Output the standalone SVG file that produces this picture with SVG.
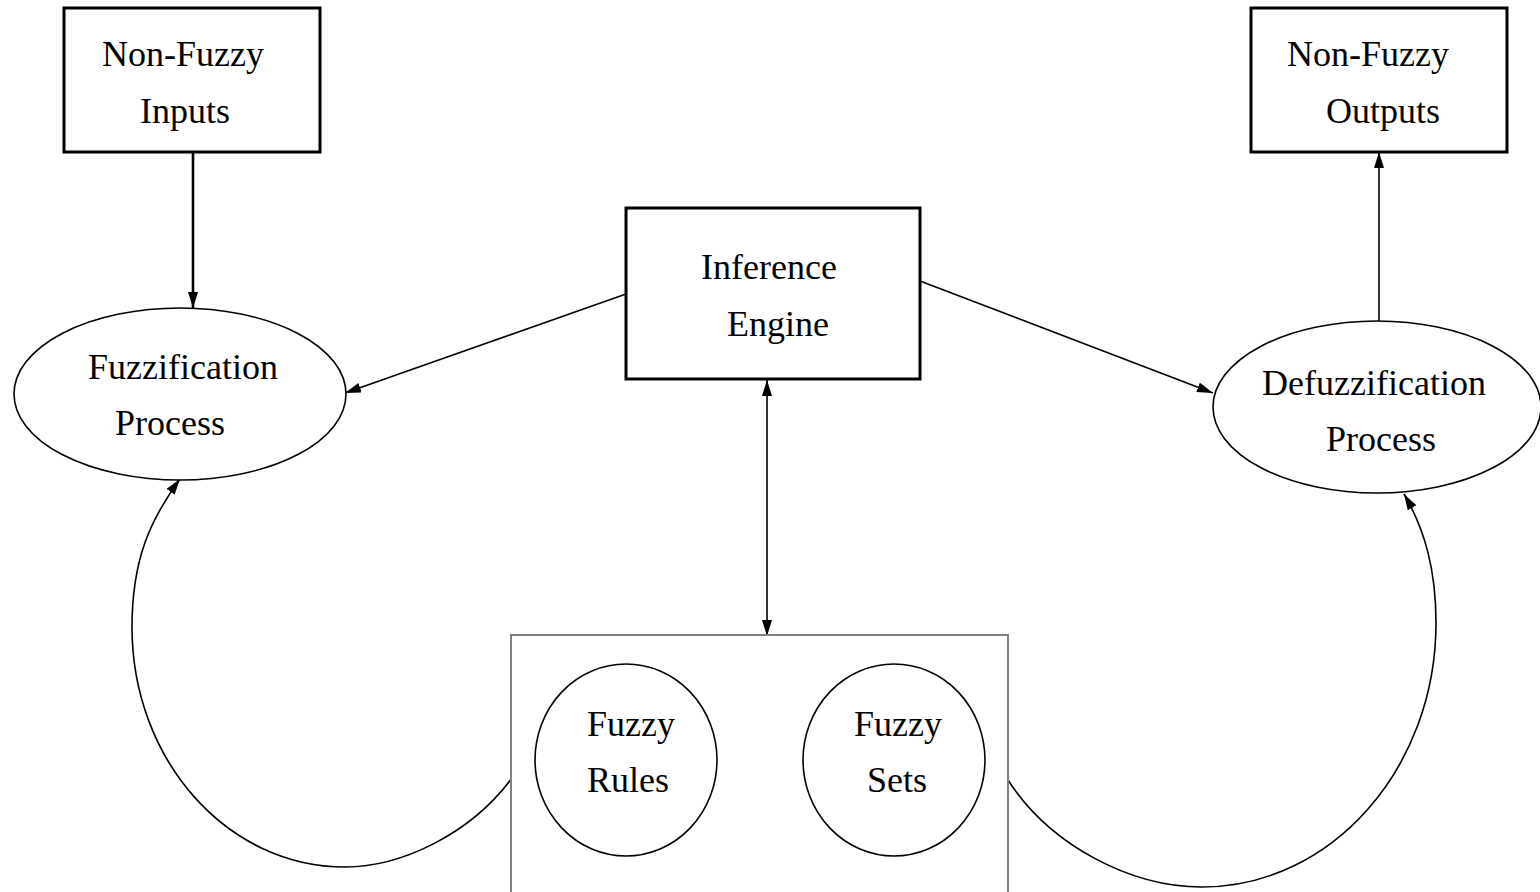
<svg xmlns="http://www.w3.org/2000/svg" width="1540" height="892" viewBox="0 0 1540 892">
<style>
.box{fill:#fff;stroke:#000;stroke-width:3}
.ell{fill:#fff;stroke:#000;stroke-width:1.6}
.inner{fill:#fff;stroke:#000;stroke-width:1.6}
.frame{fill:#fff;stroke:#808080;stroke-width:2}
.lbl{font-family:"Liberation Serif","Times New Roman",serif;font-size:36px;fill:#000;text-anchor:middle}
.con{fill:none;stroke:#000;stroke-width:1.6}
.thick{stroke-width:2.6}
</style>
<defs>
<marker id="ah" markerUnits="userSpaceOnUse" markerWidth="18" markerHeight="12" refX="16" refY="5" orient="auto-start-reverse">
<path d="M0,0 L16,5 L0,10 Z" fill="#000"/>
</marker>
</defs>
<rect width="1540" height="892" fill="#fff"/>
<g id="connectors">
<line class="con thick" x1="193" y1="152" x2="193" y2="308" marker-end="url(#ah)"/>
<line class="con" x1="626" y1="294" x2="345" y2="393" marker-end="url(#ah)"/>
<line class="con" x1="920" y1="281" x2="1213" y2="393" marker-end="url(#ah)"/>
<line class="con" x1="1379" y1="322" x2="1379" y2="152" marker-end="url(#ah)"/>
<line class="con" x1="767" y1="380" x2="767" y2="636" marker-start="url(#ah)" marker-end="url(#ah)"/>
<path class="con" d="M512,778 C470,835 400,867 345,867 C227,867 132,760 132,627 C132,560 150,520 180,479" marker-end="url(#ah)"/>
<path class="con" d="M1008,780 C1050,845 1130,887 1202,887 C1331,887 1436,769 1436,623 C1436,570 1425,530 1404,494" marker-end="url(#ah)"/>
</g>
<g id="nonfuzzy-inputs">
<rect class="box" x="64" y="8" width="256" height="144"/>
<text class="lbl" x="183" y="66">Non-Fuzzy</text>
<text class="lbl" x="185" y="123">Inputs</text>
</g>
<g id="nonfuzzy-outputs">
<rect class="box" x="1251" y="8" width="256" height="144"/>
<text class="lbl" x="1368" y="66">Non-Fuzzy</text>
<text class="lbl" x="1383" y="123">Outputs</text>
</g>
<g id="inference-engine">
<rect class="box" x="626" y="208" width="294" height="171"/>
<text class="lbl" x="769" y="279">Inference</text>
<text class="lbl" x="778" y="336">Engine</text>
</g>
<g id="fuzzification">
<ellipse class="ell" cx="180" cy="394" rx="166" ry="86"/>
<text class="lbl" x="183" y="379">Fuzzification</text>
<text class="lbl" x="170" y="435">Process</text>
</g>
<g id="defuzzification">
<ellipse class="ell" cx="1377" cy="407" rx="164" ry="86"/>
<text class="lbl" x="1374" y="395">Defuzzification</text>
<text class="lbl" x="1381" y="451">Process</text>
</g>
<g id="knowledge-base">
<rect class="frame" x="511" y="635" width="497" height="262"/>
</g>
<g id="fuzzy-rules">
<ellipse class="inner" cx="626" cy="760" rx="91" ry="96"/>
<text class="lbl" x="631" y="736">Fuzzy</text>
<text class="lbl" x="628" y="792">Rules</text>
</g>
<g id="fuzzy-sets">
<ellipse class="inner" cx="894" cy="760" rx="91" ry="96"/>
<text class="lbl" x="898" y="736">Fuzzy</text>
<text class="lbl" x="897" y="792">Sets</text>
</g>
</svg>
